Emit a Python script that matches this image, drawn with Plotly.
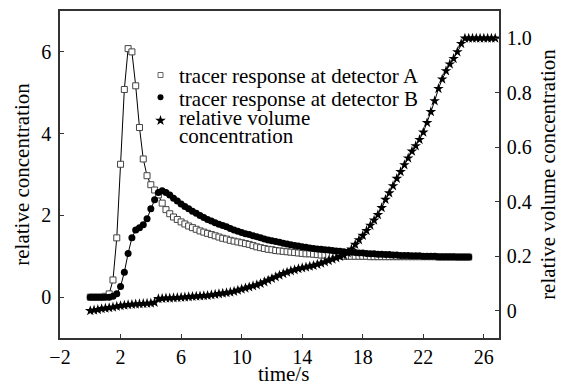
import plotly.graph_objects as go

# sample times (s)
t_vol = [0.0, 0.25, 0.5, 0.75, 1.0, 1.25, 1.5, 1.75, 2.0, 2.25, 2.5, 2.75, 3.0, 3.25, 3.5, 3.75,
         4.0, 4.25, 4.5, 4.75, 5.0, 5.25, 5.5, 5.75, 6.0, 6.25, 6.5, 6.75, 7.0, 7.25, 7.5, 7.75,
         8.0, 8.25, 8.5, 8.75, 9.0, 9.25, 9.5, 9.75, 10.0, 10.25, 10.5, 10.75, 11.0, 11.25, 11.5, 11.75,
         12.0, 12.25, 12.5, 12.75, 13.0, 13.25, 13.5, 13.75, 14.0, 14.25, 14.5, 14.75, 15.0, 15.25, 15.5, 15.75,
         16.0, 16.25, 16.5, 16.75, 17.0, 17.25, 17.5, 17.75, 18.0, 18.25, 18.5, 18.75, 19.0, 19.25, 19.5, 19.75,
         20.0, 20.25, 20.5, 20.75, 21.0, 21.25, 21.5, 21.75, 22.0, 22.25, 22.5, 22.75, 23.0, 23.25, 23.5, 23.75,
         24.0, 24.25, 24.5, 24.75, 25.0, 25.25, 25.5, 25.75, 26.0, 26.25, 26.5, 26.75]
t_det = t_vol[:101]  # detector series run 0 .. 25 s

detector_A = [0, 0, 0, 0, 0.02, 0.08, 0.42, 1.45, 3.25, 5.08, 6.08, 6.00, 5.17, 4.15, 3.38, 2.97,
              2.75, 2.62, 2.50, 2.30, 2.14, 2.04, 1.96, 1.90, 1.84, 1.79, 1.74, 1.70, 1.66, 1.62, 1.59, 1.56,
              1.53, 1.50, 1.47, 1.44, 1.42, 1.39, 1.37, 1.35, 1.33, 1.31, 1.29, 1.26, 1.23, 1.21, 1.19, 1.17,
              1.16, 1.14, 1.13, 1.12, 1.11, 1.10, 1.09, 1.08, 1.07, 1.06, 1.06, 1.05, 1.04, 1.03, 1.03, 1.02,
              1.02, 1.01, 1.01, 1.00, 1.00, 1.00, 1.00, 1.00, 1.00, 1.00, 0.99, 0.99, 0.99, 0.99, 0.99, 0.99,
              0.99, 0.99, 0.99, 0.99, 0.99, 0.99, 0.99, 0.99, 0.99, 0.99, 0.99, 0.99, 0.98, 0.98, 0.98, 0.98,
              0.98, 0.98, 0.98, 0.98, 0.98]

detector_B = [0, 0, 0, 0, 0, 0, 0.02, 0.08, 0.26, 0.61, 1.07, 1.45, 1.64, 1.70, 1.77, 1.92,
              2.16, 2.38, 2.56, 2.60, 2.56, 2.50, 2.42, 2.35, 2.28, 2.22, 2.16, 2.10, 2.05, 2.00, 1.95, 1.90,
              1.86, 1.82, 1.78, 1.75, 1.72, 1.68, 1.64, 1.61, 1.58, 1.55, 1.53, 1.50, 1.48, 1.45, 1.42, 1.40,
              1.38, 1.36, 1.34, 1.32, 1.30, 1.28, 1.26, 1.25, 1.23, 1.22, 1.20, 1.19, 1.18, 1.17, 1.16, 1.15,
              1.14, 1.13, 1.12, 1.11, 1.10, 1.10, 1.09, 1.08, 1.08, 1.07, 1.06, 1.06, 1.05, 1.05, 1.04, 1.04,
              1.03, 1.03, 1.02, 1.02, 1.02, 1.01, 1.01, 1.01, 1.00, 1.00, 1.00, 1.00, 0.99, 0.99, 0.99, 0.99,
              0.99, 0.98, 0.98, 0.98, 0.98]

volume_conc = [0.000, 0.002, 0.004, 0.007, 0.009, 0.011, 0.013, 0.016, 0.018, 0.020, 0.022, 0.023, 0.024, 0.025, 0.026, 0.027,
               0.028, 0.030, 0.044, 0.045, 0.046, 0.046, 0.047, 0.048, 0.049, 0.050, 0.051, 0.052, 0.053, 0.054, 0.055, 0.056,
               0.058, 0.060, 0.062, 0.064, 0.066, 0.068, 0.071, 0.075, 0.079, 0.083, 0.087, 0.091, 0.095, 0.100, 0.106, 0.112,
               0.118, 0.124, 0.130, 0.136, 0.141, 0.146, 0.150, 0.154, 0.157, 0.160, 0.163, 0.166, 0.170, 0.174, 0.179, 0.184,
               0.189, 0.194, 0.199, 0.204, 0.212, 0.226, 0.243, 0.260, 0.276, 0.294, 0.313, 0.332, 0.352, 0.378, 0.408, 0.432,
               0.458, 0.485, 0.510, 0.535, 0.560, 0.585, 0.605, 0.628, 0.655, 0.690, 0.730, 0.770, 0.815, 0.850, 0.880, 0.905,
               0.925, 0.950, 0.980, 1.000, 1.000, 1.000, 1.000, 1.000, 1.000, 1.000, 1.000, 1.000]

x_ticks = [-2, 2, 6, 10, 14, 18, 22, 26]
y_ticks = [0, 2, 4, 6]
y2_ticks = [0, 0.2, 0.4, 0.6, 0.8, 1.0]
y2_labels = ["0", "0.2", "0.4", "0.6", "0.8", "1.0"]

legend_lines = ["tracer response at detector A", "tracer response at detector B",
                "relative volume", "concentration"]
x_title = "time/s"

FONT = "Liberation Serif, Times New Roman, serif"
INK = "#000000"
AXIS = "#333333"

# plot-area geometry in pixels (for placing the hand-made legend)
W, H = 565, 387
L, R, T, B = 60, 66, 11, 49
PW, PH = W - L - R, H - T - B


def px_x(px):
    return (px - L) / PW


def px_y(py):
    return (H - B - py) / PH


fig = go.Figure()

# connecting lines
fig.add_trace(go.Scatter(x=t_vol, y=volume_conc, yaxis="y2", mode="lines",
                         line=dict(color=INK, width=1), showlegend=False, hoverinfo="skip"))
fig.add_trace(go.Scatter(x=t_det, y=detector_A, mode="lines",
                         line=dict(color=INK, width=1), showlegend=False, hoverinfo="skip"))
fig.add_trace(go.Scatter(x=t_det, y=detector_B, mode="lines",
                         line=dict(color=INK, width=1), showlegend=False, hoverinfo="skip"))

# markers
sq = dict(symbol="square", size=6, color="white", line=dict(color="#444444", width=1))
ci = dict(symbol="circle", size=7, color=INK, line=dict(width=0))
st = dict(symbol="star", size=8, color=INK, line=dict(width=0))
fig.add_trace(go.Scatter(x=t_det, y=detector_A, mode="markers", marker=sq, showlegend=False))
fig.add_trace(go.Scatter(x=t_det, y=detector_B, mode="markers", marker=ci, showlegend=False))
fig.add_trace(go.Scatter(x=t_vol, y=volume_conc, yaxis="y2", mode="markers", marker=st,
                         showlegend=False))

# legend keys on a hidden [0,1] overlay axis
key_y = [px_y(75), px_y(97.3), px_y(120.5)]
key_x = px_x(160.5)
for yk, mk in zip(key_y, [dict(sq, size=5, line=dict(color="#666666", width=1)),
                          dict(ci, size=6), dict(st, size=8)]):
    fig.add_trace(go.Scatter(x=[key_x], y=[yk], xaxis="x3", yaxis="y3", mode="markers",
                             marker=mk, showlegend=False, hoverinfo="skip"))

text_y = [76.5, 98.5, 118.5, 136]
for txt, ty in zip(legend_lines, text_y):
    fig.add_annotation(x=px_x(177), y=px_y(ty), xref="paper", yref="paper", text=txt,
                       showarrow=False, xanchor="left", yanchor="middle",
                       font=dict(family=FONT, size=21, color=INK))

# x-axis title
fig.add_annotation(x=px_x(283), y=px_y(374), xref="paper", yref="paper", text=x_title,
                   showarrow=False, xanchor="center", yanchor="middle",
                   font=dict(family=FONT, size=21, color=INK))

fig.update_layout(
    width=W, height=H,
    margin=dict(l=L, r=R, t=T, b=B, autoexpand=False),
    paper_bgcolor="white", plot_bgcolor="white",
    font=dict(family=FONT, size=20, color=INK),
    showlegend=False,
    xaxis=dict(range=[-2, 27], tickvals=x_ticks, ticks="inside", ticklen=4, tickwidth=1,
               tickcolor=AXIS, showline=True, linecolor=AXIS, linewidth=1.5, mirror=True,
               showgrid=False, zeroline=False, ticklabelstandoff=0, automargin=False,
               tickfont=dict(family=FONT, size=20)),
    yaxis=dict(range=[-1, 7], tickvals=y_ticks, ticks="inside", ticklen=4, tickwidth=1,
               tickcolor=AXIS, showline=True, linecolor=AXIS, linewidth=1.5,
               showgrid=False, zeroline=False, ticklabelstandoff=3, automargin=False,
               title=dict(text="relative concentration", standoff=6,
                          font=dict(family=FONT, size=21)),
               tickfont=dict(family=FONT, size=20)),
    yaxis2=dict(range=[-0.1, 1.1], overlaying="y", side="right", tickvals=y2_ticks,
                ticktext=y2_labels, ticks="inside", ticklen=4, tickwidth=1,
                tickcolor=AXIS, showline=True, linecolor=AXIS, linewidth=1.5,
                showgrid=False, zeroline=False, ticklabelstandoff=2, automargin=False,
                title=dict(text="relative volume concentration", standoff=10,
                           font=dict(family=FONT, size=21)),
                tickfont=dict(family=FONT, size=20)),
    xaxis3=dict(range=[0, 1], overlaying="x", visible=False),
    yaxis3=dict(range=[0, 1], overlaying="y", visible=False),
)

fig.write_html("out.html")
